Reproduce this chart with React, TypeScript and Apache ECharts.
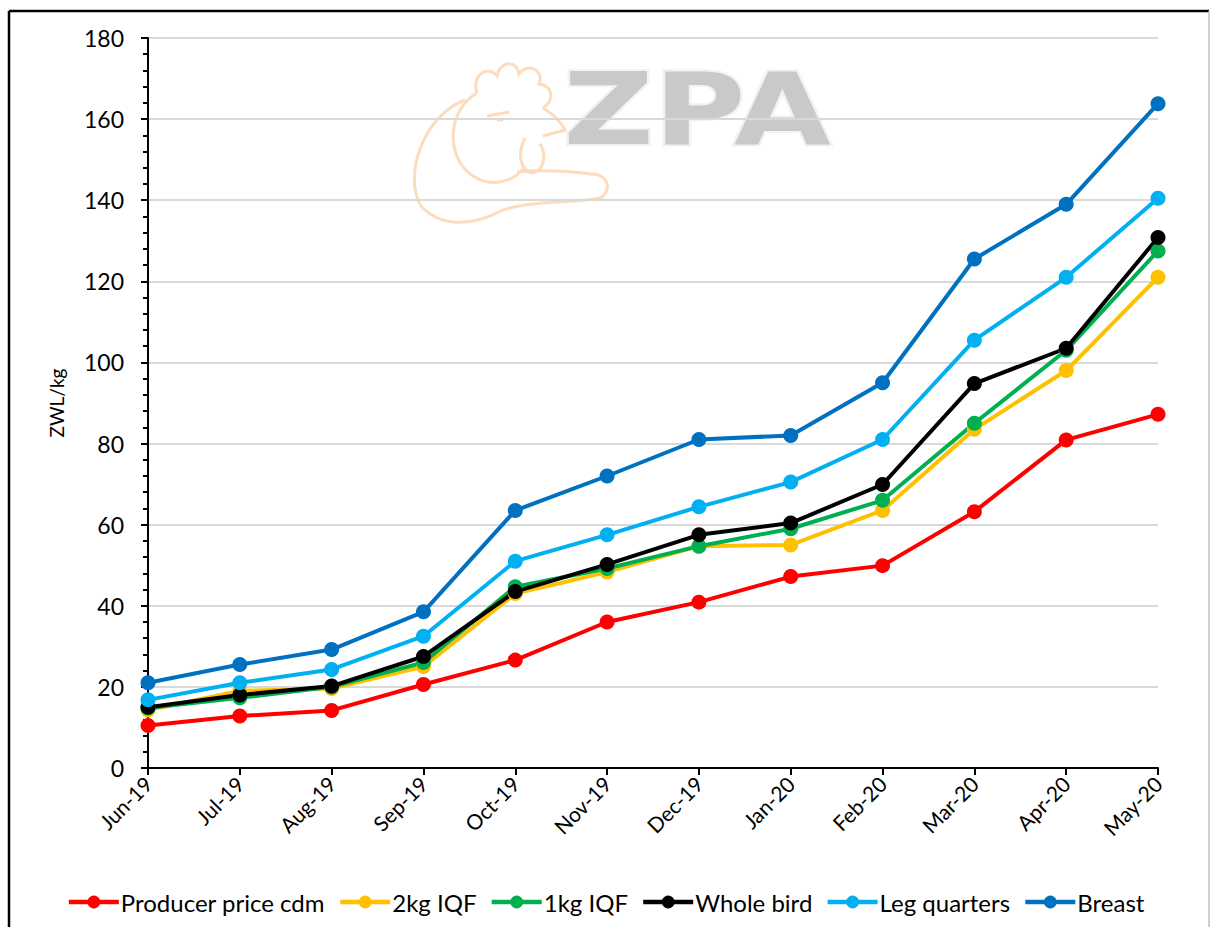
import React, { useEffect, useRef } from "react";
import * as echarts from "echarts";

const months = ["Jun-19", "Jul-19", "Aug-19", "Sep-19", "Oct-19", "Nov-19", "Dec-19", "Jan-20", "Feb-20", "Mar-20", "Apr-20", "May-20"];
const producer = [10.5, 12.8, 14.2, 20.6, 26.6, 36.0, 40.9, 47.2, 49.9, 63.2, 80.9, 87.2];
const iqf2kg = [14.3, 19.0, 19.6, 25.0, 43.0, 48.3, 54.7, 55.0, 63.5, 83.5, 98.0, 121.0];
const iqf1kg = [14.8, 17.3, 20.0, 26.0, 44.7, 49.2, 54.7, 59.0, 66.0, 85.0, 103.0, 127.5];
const wholeBird = [15.0, 18.0, 20.2, 27.5, 43.5, 50.2, 57.5, 60.4, 69.9, 94.8, 103.5, 130.8];
const legQuarters = [16.8, 21.0, 24.3, 32.5, 51.0, 57.5, 64.4, 70.5, 81.0, 105.5, 121.0, 140.5];
const breast = [21.0, 25.5, 29.2, 38.5, 63.5, 72.0, 81.0, 82.0, 95.0, 125.5, 139.0, 163.8];

const seriesDefs = [
  { name: "Producer price cdm", data: producer, color: "#FF0000" },
  { name: "2kg IQF", data: iqf2kg, color: "#FFC000" },
  { name: "1kg IQF", data: iqf1kg, color: "#00B050" },
  { name: "Whole bird", data: wholeBird, color: "#000000" },
  { name: "Leg quarters", data: legQuarters, color: "#00B0F0" },
  { name: "Breast", data: breast, color: "#0070C0" },
];

const chickenPath =
  "M72,35 C66,18 82,6 92,18 C95,2 112,2 114,16 C122,4 140,12 134,26 C148,28 150,42 138,50 " +
  "M72,35 C42,52 40,100 68,118 C86,130 110,124 120,108 " +
  "M138,50 C148,56 156,64 160,72 L138,78 " +
  "M120,80 C112,96 115,112 127,115 C139,113 142,97 135,86 " +
  "M82,58 L104,54 M92,62 L98,62 " +
  "M60,42 C18,58 -2,118 16,148 C36,170 68,168 98,152 C128,142 160,146 196,140 C208,130 202,116 186,116 C160,113 132,112 112,114";

export default function App() {
  const ref = useRef<HTMLDivElement>(null);
  useEffect(() => {
    if (!ref.current) return;
    try {
      echarts.graphic.registerShape("chicken", echarts.graphic.extendPath(chickenPath, {}));
    } catch (e) {}
    const chart = echarts.init(ref.current, null, { renderer: "svg" });
    const font = "Lato, 'Noto Sans', sans-serif";
    chart.setOption({
      animation: false,
      backgroundColor: "#ffffff",
      textStyle: { fontFamily: font },
      graphic: [
        { type: "line", shape: { x1: 9, y1: 11, x2: 1209, y2: 11 }, style: { stroke: "#000", lineWidth: 2.5 }, z: 0 },
        { type: "line", shape: { x1: 9, y1: 11, x2: 9, y2: 927 }, style: { stroke: "#000", lineWidth: 2.5 }, z: 0 },
        { type: "line", shape: { x1: 1209, y1: 11, x2: 1209, y2: 927 }, style: { stroke: "#bfbfbf", lineWidth: 1.5 }, z: 0 },
        {
          type: "chicken", x: 405, y: 58, scaleX: 1.0, scaleY: 1.0, z: 0,
          style: { fill: "none", stroke: "#fbdcbd", lineWidth: 3 },
        },
        {
          type: "text", x: 697, y: 160, scaleX: 1.25, z: 0,
          style: {
            text: "ZPA", fontSize: 100, fontWeight: "bold", fontFamily: "'DejaVu Sans', sans-serif",
            fill: "#c9c9c9", stroke: "#f2f2f2", lineWidth: 4, textAlign: "center", textVerticalAlign: "bottom",
          },
        },
      ],
      grid: { left: 148, right: 53, top: 38, bottom: 159, containLabel: false },
      legend: {
        bottom: 8,
        left: "center",
        itemWidth: 50,
        itemHeight: 16,
        itemGap: 13,
        lineStyle: { width: 4.5 },
        textStyle: { fontSize: 24, color: "#000", fontFamily: font, padding: [0, 0, 0, -3] },
        data: seriesDefs.map((s) => s.name),
      },
      xAxis: {
        type: "category",
        data: months,
        boundaryGap: false,
        axisLine: { lineStyle: { color: "#000", width: 2 } },
        axisTick: { show: true, length: 7, lineStyle: { color: "#000", width: 2 } },
        axisLabel: { rotate: 45, fontSize: 21, color: "#000", margin: 12, fontFamily: font },
        splitLine: { show: false },
      },
      yAxis: {
        type: "value",
        min: 0,
        max: 180,
        interval: 20,
        name: "ZWL/kg",
        nameLocation: "middle",
        nameGap: 82,
        nameTextStyle: { fontSize: 19, color: "#000", fontFamily: font },
        axisLine: { show: true, lineStyle: { color: "#000", width: 2 } },
        axisTick: { show: true, length: 7, lineStyle: { color: "#000", width: 2 } },
        minorTick: { show: true, splitNumber: 5, length: 5, lineStyle: { color: "#000", width: 2 } },
        axisLabel: { fontSize: 23, color: "#000", margin: 24, fontFamily: font },
        splitLine: { show: true, lineStyle: { color: "#d9d9d9", width: 2 } },
      },
      series: seriesDefs.map((s) => ({
        name: s.name,
        type: "line",
        data: s.data,
        symbol: "circle",
        symbolSize: 15,
        lineStyle: { color: s.color, width: 4 },
        itemStyle: { color: s.color },
        z: 3,
      })),
    });
    return () => chart.dispose();
  }, []);
  return <div ref={ref} style={{ position: "absolute", left: 0, top: 0, width: 1211, height: 927 }} />;
}
